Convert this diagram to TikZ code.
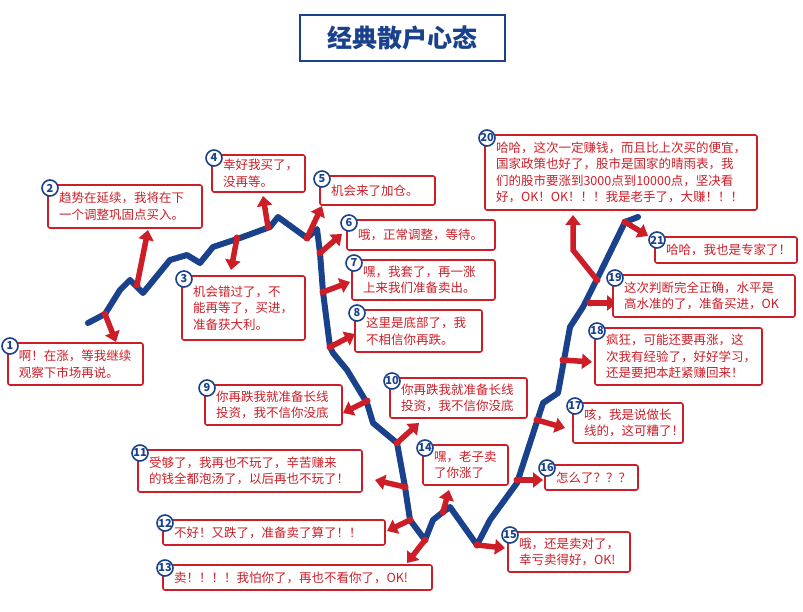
\documentclass[tikz,border=0pt]{standalone}
\usepackage{fontspec}
\setmainfont{Noto Sans CJK SC}
\usetikzlibrary{arrows.meta}
\definecolor{myred}{RGB}{205,30,40}
\definecolor{myblue}{RGB}{25,65,140}
\begin{document}
\begin{tikzpicture}[x=1pt,y=-1pt,
  box/.style={draw=myred,line width=1.6pt,rounded corners=2pt,fill=white,text=myred,align=left,
    font=\fontsize{12.5}{16.5}\selectfont,inner sep=0pt},
  num/.style={circle,draw=myblue,line width=1.6pt,fill=white,text=myblue,inner sep=0pt,minimum size=16pt,
    font=\fontsize{11}{11}\selectfont\bfseries},
  arr/.style={draw=myred,line width=5.5pt,-{Triangle[length=10pt,width=15pt]}}]
\useasboundingbox (0,0) rectangle (803,612);
% title
\node[draw=myblue,line width=2pt,minimum width=205pt,minimum height=46pt,text=myblue,
  font=\fontsize{25}{25}\selectfont\bfseries] (title) at (402,38) {经典散户心态};
% curve
\draw[myblue,line width=6pt,line join=round,line cap=round]
 (88,323)--(105,314)--(120,290)--(130,280)--(143,293)--(170,260)--(187,255)--(200,263)--(213,247)
 --(240,238)--(270,227)--(278,217)--(307,238)--(317,229)--(320,253)--(323,292)--(330,347)--(333,353)
 --(347,370)--(367,403)--(373,423)--(397,443)--(405,487)--(410,520)--(425,540)--(433,520)--(443,512)
 --(450,507)--(477,545)--(490,520)--(517,483)--(543,403)--(558,393)--(570,327)--(583,307)--(600,273)
 --(625,222)--(638,217);
% arrows
\foreach \ax/\ay/\bx/\by in {105/314/116/342, 137/285/148/230, 237/238/231/270, 268/227/263/196,
  307/238/322/206, 320/253/342/234, 323/292/350/282, 330/347/355/334, 367/401/343/413,
  397/443/419/423, 405/487/375/480, 410/520/387/531, 425/540/407/563, 443/512/449/490,
  477/545/505/548, 517/480/543/480, 537/420/565/428, 563/360/592/362, 590/303/617/303, 625/222/648/236}
  {\coordinate (a) at (\ax,\ay); \coordinate (b) at (\bx,\by);
   \draw[arr] (a) -- (b);}
\coordinate (c20) at (597,280); \coordinate (k20) at (573,250); \coordinate (e20) at (573,215);
\draw[draw=myred,line width=5.5pt,line join=miter,-{Triangle[length=10pt,width=15pt]}] (c20)--(k20)--(e20);
\foreach \x/\y in {105/314,137/285,237/238,268/227,307/238,320/253,323/292,330/347,367/401,397/443,405/487,410/520,425/540,443/512,477/545,517/480,537/420,563/360,590/303,597/280,625/222}
  \fill[myred] (\x,\y) circle (3.5pt);
% boxes
\newcommand\bx[7]{%
  \node[box,minimum width=#3-#1,minimum height=#4-#2,text width=#3-#1-22pt] (b#5) at ({(#1+#3)/2},{(#2+#4)/2}) {#7};
  \node[num] (n#5) at (#1+2,#2+3) {#6};}
\bx{8}{343}{143}{385}{1}{1}{啊！在涨，等我继续\\观察下市场再说。}
\bx{48}{185}{202}{228}{2}{2}{趋势在延续，我将在下\\一个调整巩固点买入。}
\bx{182}{276}{305}{340}{3}{3}{机会错过了，不\\能再等了，买进，\\准备获大利。}
\bx{212}{155}{305}{192}{4}{4}{幸好我买了，\\没再等。}
\bx{320}{176}{435}{205}{5}{5}{机会来了加仓。}
\bx{347}{220}{495}{250}{6}{6}{哦，正常调整，等待。}
\bx{352}{260}{495}{300}{7}{7}{嘿，我套了，再一涨\\上来我们准备卖出。}
\bx{355}{310}{482}{352}{8}{8}{这里是底部了，我\\不相信你再跌。}
\bx{205}{385}{342}{425}{9}{9}{你再跌我就准备长线\\投资，我不信你没底}
\bx{390}{378}{527}{418}{10}{10}{你再跌我就准备长线\\投资，我不信你没底}
\bx{138}{450}{362}{492}{11}{11}{受够了，我再也不玩了，辛苦赚来\\的钱全都泡汤了，以后再也不玩了！}
\bx{163}{520}{385}{545}{12}{12}{不好！又跌了，准备卖了算了！！}
\bx{163}{565}{432}{590}{13}{13}{卖！！！！我怕你了，再也不看你了，OK!}
\bx{423}{445}{508}{485}{14}{14}{嘿，老子卖\\了你涨了}
\bx{508}{532}{630}{572}{15}{15}{哦，还是卖对了，\\幸亏卖得好，OK!}
\bx{545}{465}{638}{490}{16}{16}{怎么了？？？}
\bx{573}{403}{683}{443}{17}{17}{咳，我是说做长\\线的，这可糟了！}
\bx{595}{328}{762}{385}{18}{18}{疯狂，可能还要再涨，这\\次我有经验了，好好学习，\\还是要把本赶紧赚回来！}
\bx{613}{275}{795}{317}{19}{19}{这次判断完全正确，水平是\\高水准的了，准备买进，OK}
\bx{485}{135}{757}{210}{20}{20}{哈哈，这次一定赚钱，而且比上次买的便宜，\\国家政策也好了，股市是国家的晴雨表，我\\们的股市要涨到3000点到10000点，坚决看\\好，OK！OK！！！我是老手了，大赚！！！}
\bx{655}{237}{797}{263}{21}{21}{哈哈，我也是专家了！}
\end{tikzpicture}
\end{document}
